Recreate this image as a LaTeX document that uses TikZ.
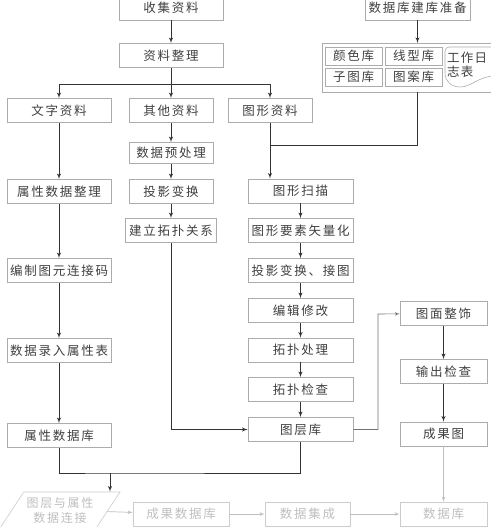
\documentclass[tikz,border=0pt]{standalone}
\usepackage{fontspec}
\setmainfont{Noto Sans CJK SC}
\usepackage{tikz}
\usetikzlibrary{calc,arrows,positioning,shapes}

\tikzset{
  box/.style={draw=gray!65, line width=0.6pt, minimum height=24pt, inner sep=0pt,
    text=black!75, font=\fontsize{12.5}{14}\selectfont\addfontfeature{LetterSpace=14}},
  wbox/.style={box, minimum width=104pt},
  mbox/.style={box, minimum width=84pt},
  rbox/.style={box, minimum width=105pt},
  obox/.style={box, minimum width=87pt},
  sbox/.style={box, minimum width=57pt, minimum height=18pt},
  pale/.style={draw=gray!40, text=gray!50},
  line/.style={draw=black!80, line width=0.9pt},
  arr/.style={line, -latex'},
  thin/.style={draw=black!55, line width=0.6pt, -latex'},
  paleline/.style={draw=gray!50, line width=0.7pt, -latex'}
}

\begin{document}
\begin{tikzpicture}[x=1pt,y=-1pt]
\useasboundingbox (0,0) rectangle (490,527);
\fill[white] (0,0) rectangle (490,527);

% top
\node[wbox] (collect) at (171,8) {收集资料};
\node[wbox] (sort) at (171,55.5) {资料整理};
\node[wbox] (wenzi) at (59,110.5) {文字资料};
\node[mbox] (qita) at (171,110.5) {其他资料};
\node[mbox] (tuxing) at (270,110.5) {图形资料};

% database preparation
\node[rbox] (prep) at (417.5,8) {数据库建库准备};
\draw[gray!65, line width=0.6pt] (322,43) rectangle (496,92);
\coordinate (dbtop) at (417.5,43);
\coordinate (dbbot) at (417.5,92);
\node[sbox] (yanse) at (353.5,56) {颜色库};
\node[sbox] (xianxing) at (413.5,56) {线型库};
\node[sbox] (zitu) at (353.5,77) {子图库};
\node[sbox] (tuan) at (413.5,77) {图案库};
\draw[gray!65, line width=0.6pt] (449,47) -- (496,47) -- (496,76)
  .. controls (478,76) and (472,87) .. (460,87)
  .. controls (451,87) and (445,81) .. (445,73) -- (445,51)
  .. controls (445,49) and (447,47) .. (449,47);
\node[anchor=west, align=left, inner sep=0pt, text=black!75,
  font=\fontsize{12.5}{14.5}\selectfont\addfontfeature{LetterSpace=10}] (rizhi) at (447,65) {工作日\\志表};

% left column
\node[wbox] (shuxingzl) at (59,191.5) {属性数据整理};
\node[wbox] (bianzhi) at (59,270.5) {编制图元连接码};
\node[wbox] (luru) at (59,350.5) {数据录入属性表};
\node[wbox] (shuxingku) at (59,435.5) {属性数据库};

% middle column
\node[mbox, minimum height=21pt] (yuchuli) at (171,153) {数据预处理};
\node[mbox] (touying) at (171,191.5) {投影变换};
\node[box, minimum width=91pt] (tuopu) at (171,230.5) {建立拓扑关系};

% graphic column
\node[rbox] (saomiao) at (300.5,191) {图形扫描};
\node[rbox] (shiliang) at (300.5,230.5) {图形要素矢量化};
\node[rbox] (jietu) at (300.5,270.5) {投影变换、接图};
\node[rbox] (bianji) at (300.5,310.5) {编辑修改};
\node[rbox] (tuopucl) at (300.5,350) {拓扑处理};
\node[rbox] (jiancha) at (300.5,389.5) {拓扑检查};
\node[rbox] (tuceng) at (300.5,429.5) {图层库};

% output column
\node[obox] (zhengshi) at (443.5,313.5) {图面整饰};
\node[obox] (shuchu) at (443.5,371.5) {输出检查};
\node[obox] (chengguotu) at (443.5,434) {成果图};

% bottom row
\node[box, pale, trapezium, trapezium left angle=50, trapezium right angle=130,
  trapezium stretches=true, minimum width=120pt, minimum height=36pt, align=center,
  font=\fontsize{12}{15}\selectfont\addfontfeature{LetterSpace=14}] (lianjie) at (60,510) {图层与属性\\数据连接};
\node[box, pale, minimum width=96pt] (chengguoku) at (181,514) {成果数据库};
\node[box, pale, minimum width=85pt] (jicheng) at (307.5,514) {数据集成};
\node[box, pale, minimum width=87pt] (shuchuku) at (443.5,514) {数据库};

% connectors
\coordinate (split) at (171,84);
\coordinate (merge) at (270,145);
\coordinate (join) at (110,473);
\coordinate (bend) at (378,314);

\draw[arr] (collect) -- (sort);
\draw[arr] (sort) -- (qita);
\draw[arr] (split) -| (wenzi);
\draw[arr] (split) -| (tuxing);
\draw[arr] (prep) -- (dbtop);

\draw[arr] (wenzi) -- (shuxingzl);
\draw[arr] (shuxingzl) -- (bianzhi);
\draw[arr] (bianzhi) -- (luru);
\draw[arr] (luru) -- (shuxingku);

\draw[arr] (qita) -- (yuchuli);
\draw[arr] (yuchuli) -- (touying);
\draw[arr] (touying) -- (tuopu);
\draw[arr] (tuopu) |- (tuceng);

\draw[line] (tuxing) -- (merge);
\draw[line] (dbbot) |- (merge);
\draw[arr] (merge) -- (merge |- saomiao.north);
\draw[arr] (saomiao) -- (shiliang);
\draw[arr] (shiliang) -- (jietu);
\draw[arr] (jietu) -- (bianji);
\draw[arr] (bianji) -- (tuopucl);
\draw[arr] (tuopucl) -- (jiancha);
\draw[arr] (jiancha) -- (tuceng);

\draw[line] (shuxingku) |- (join) -| (tuceng);
\draw[arr] (join) -- (join |- lianjie.north);

\draw[thin] (tuceng) -| (bend) -- (zhengshi);
\draw[arr] (zhengshi) -- (shuchu);
\draw[arr] (shuchu) -- (chengguotu);
\draw[paleline] (chengguotu) -- (shuchuku);

\draw[paleline] (lianjie) -- (chengguoku);
\draw[paleline] (chengguoku) -- (jicheng);
\draw[paleline] (jicheng) -- (shuchuku);
\end{tikzpicture}
\end{document}
